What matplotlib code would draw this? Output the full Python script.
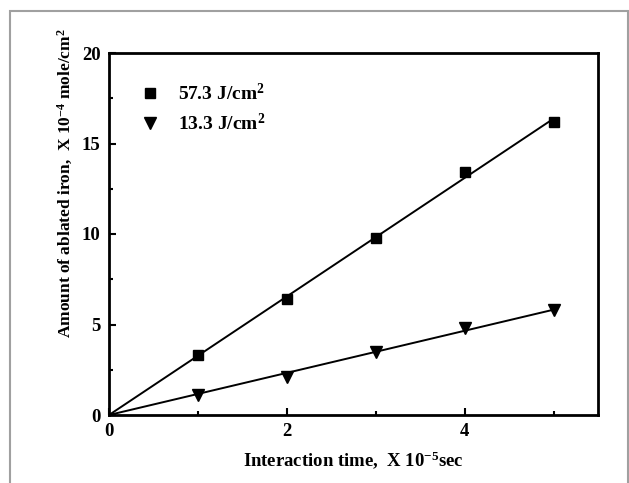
import matplotlib
matplotlib.use("Agg")
import matplotlib.pyplot as plt
from matplotlib.patches import Rectangle
import numpy as np

# data
times = [0, 1, 2, 3, 4, 5]
high_fluence = [0, 3.3, 6.4, 9.8, 13.4, 16.2]   # 57.3 J/cm2
low_fluence = [0, 1.1, 2.1, 3.5, 4.8, 5.8]      # 13.3 J/cm2

plt.rcParams['font.family'] = ['Liberation Serif', 'DejaVu Serif']
plt.rcParams['font.weight'] = 'bold'
plt.rcParams['mathtext.fontset'] = 'custom'
plt.rcParams['mathtext.rm'] = 'Liberation Serif:bold'
plt.rcParams['mathtext.it'] = 'Liberation Serif:bold'
plt.rcParams['mathtext.bf'] = 'Liberation Serif:bold'

fig = plt.figure(figsize=(6.29, 4.83), dpi=100)
ax = fig.add_axes([109/629, 1 - 415/483, (598 - 109)/629, (415 - 53)/483])

# grey frame around the picture
fig.patches.append(Rectangle((10/629, -0.1), 618/629, 1.1 - 11/483,
                             transform=fig.transFigure, fill=False,
                             edgecolor='#a0a0a0', linewidth=1.5))

x = np.array(times, dtype=float)
for vals, marker, ms, label in [(high_fluence, 's', 7, '57.3 J/cm$^2$'),
                                (low_fluence, 'v', 8.5, '13.3 J/cm$^2$')]:
    y = np.array(vals)
    # least squares line through the origin
    slope = np.sum(x * y) / np.sum(x * x)
    ax.plot(x, slope * x, color='black', linewidth=1.4)
    ax.plot(x[1:], y[1:], linestyle='none', marker=marker, markersize=ms,
            color='black', label=label)

ax.set_xlim(0, 5.5)
ax.set_ylim(0, 20)
ax.set_xticks([0, 2, 4])
ax.set_xticks([1, 3, 5], minor=True)
ax.set_yticks([0, 5, 10, 15, 20])
ax.set_yticks([2.5, 7.5, 12.5, 17.5], minor=True)
ax.tick_params(which='both', direction='in', width=1.5, labelsize=13.5,
               top=False, right=False)
ax.tick_params(which='major', length=5, pad=6)
ax.tick_params(which='minor', length=3)
for s in ax.spines.values():
    s.set_linewidth(2)

ax.set_xlabel('Interaction time,  X 10$^{-5}$sec', fontsize=13.5,
              fontweight='bold', labelpad=6)
ax.set_ylabel('Amount of ablated iron,  X 10$^{-4}$ mole/cm$^2$', fontsize=12.5,
              fontweight='bold')
ax.yaxis.set_label_coords(-0.07, 0.641)

ax.legend(loc='upper left', frameon=False, fontsize=14, handlelength=1.0,
          handletextpad=0.9, borderaxespad=0, labelspacing=0.45,
          bbox_to_anchor=(0.049, 0.94))

fig.savefig('out.png', dpi=100)
